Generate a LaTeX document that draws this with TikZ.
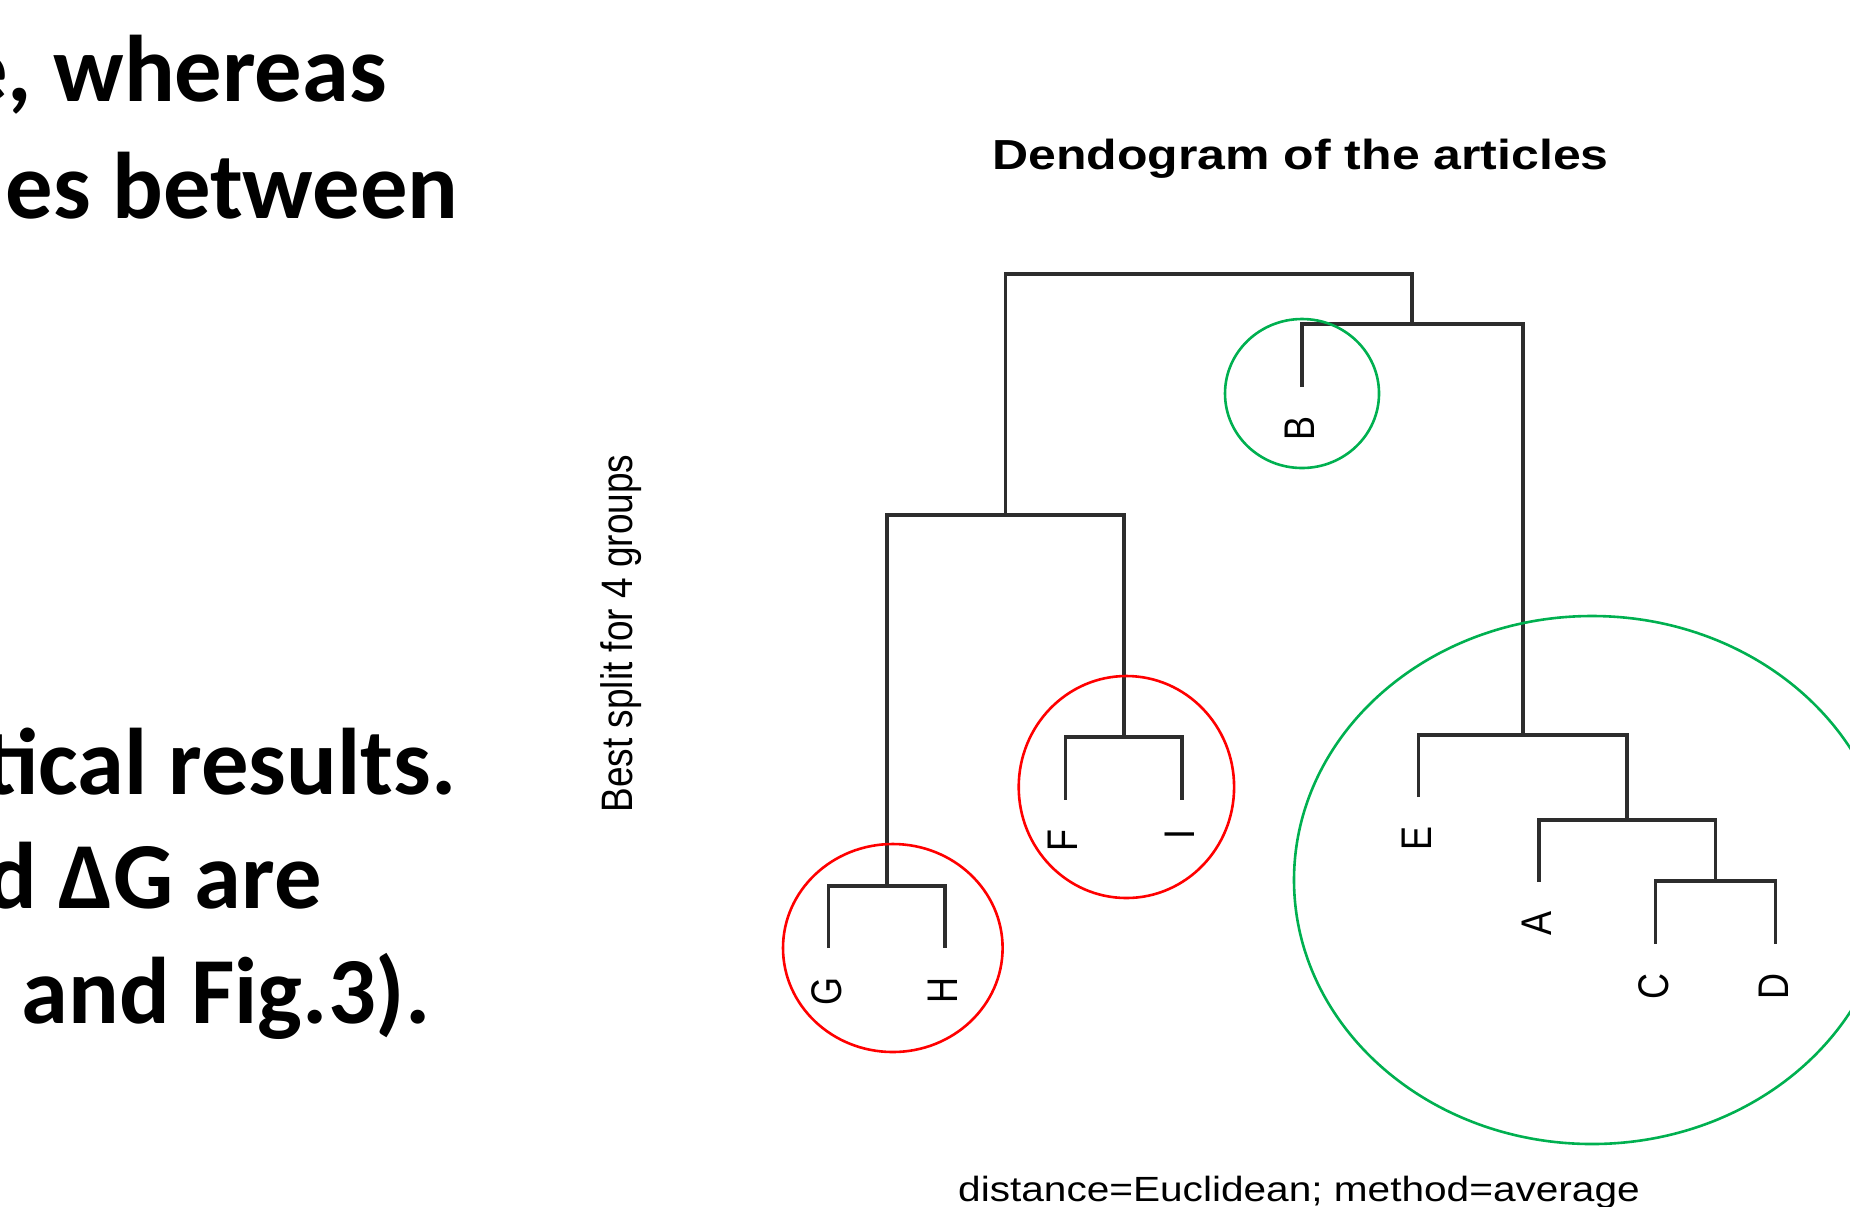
\documentclass[tikz,border=0pt]{standalone}
\usepackage{fontspec}
\setmainfont{Liberation Sans}
\newfontfamily\slidefont{Carlito}
\definecolor{ringgreen}{RGB}{0,176,80}
\definecolor{ringred}{RGB}{255,0,0}
\definecolor{branchgray}{RGB}{45,45,45}
\begin{document}
\begin{tikzpicture}[x=0.5pt,y=-0.5pt,
  slide/.style={font=\slidefont\bfseries\fontsize{47.3}{50}\selectfont, anchor=base east, inner sep=0pt},
  plottitle/.style={font=\bfseries\fontsize{21}{24}\selectfont, anchor=base, inner sep=0pt},
  axislabel/.style={font=\fontsize{18.5}{20}\selectfont, inner sep=0pt},
  leaflabel/.style={font=\fontsize{18}{20}\selectfont, rotate=90, anchor=base east, inner sep=0pt},
  branch/.style={draw=branchgray, line width=1.7pt},
  redring/.style={draw=ringred, line width=1.3pt},
  greenring/.style={draw=ringgreen, line width=1.3pt}]
\useasboundingbox (0,0) rectangle (1850,1206);
\clip (0,0) rectangle (1850,1206);

% slide text (cut at the left edge)
\node[slide] (t1) at (387.5,101.7) {e, whereas};
\node[slide] (t2) at (459,218) {es between};
\node[slide] (t3) at (457,794) {tical results.};
\node[slide] (t4) at (322,908.3) {d ΔG are};
\node[slide] (t5) at (431,1023) {and Fig.3).};

% plot texts
\node[plottitle] (title) at (1300.5,169) {\scalebox{1.19}[1]{Dendogram of the articles}};
\node[axislabel, rotate=90, anchor=base] (ylab) at (632,633.5) {\scalebox{1}[1.19]{Best split for 4 groups}};
\node[axislabel, anchor=base, font=\fontsize{17.5}{20}\selectfont] (xlab) at (1299,1201) {\scalebox{1.16}[1]{distance=Euclidean; method=average}};

% leaves (ends of branches)
\coordinate (G) at (828.6,948);
\coordinate (H) at (945,948);
\coordinate (F) at (1065.7,799.6);
\coordinate (I) at (1182,799.6);
\coordinate (B) at (1302,387);
\coordinate (E) at (1418.5,797);
\coordinate (A) at (1539,882);
\coordinate (C) at (1655.6,943.6);
\coordinate (D) at (1775.6,943.6);

% merges
\coordinate (GH) at (887,886);
\coordinate (FI) at (1124,737);
\coordinate (CD) at (1715.6,881);
\coordinate (ACD) at (1627,820);
\coordinate (EACD) at (1523,735);
\coordinate (BEACD) at (1412,324);
\coordinate (GHFI) at (1005.5,515);
\coordinate (root) at (1208.75,274);

\draw[branch] (G) |- (GH) -| (H);
\draw[branch] (F) |- (FI) -| (I);
\draw[branch] (C) |- (CD) -| (D);
\draw[branch] (A) |- (ACD) -| (CD);
\draw[branch] (E) |- (EACD) -| (ACD);
\draw[branch] (B) |- (BEACD) -| (EACD);
\draw[branch] (GH) |- (GHFI) -| (FI);
\draw[branch] (GHFI) |- (root) -| (BEACD);

% leaf labels
\node[leaflabel] (lG) at (841,977) {\scalebox{1}[1.19]{G}};
\node[leaflabel] (lH) at (957.5,977) {\scalebox{1}[1.19]{H}};
\node[leaflabel] (lF) at (1077.7,828.6) {\scalebox{1}[1.19]{F}};
\node[leaflabel] (lI) at (1194,828.6) {\scalebox{1}[1.19]{I}};
\node[leaflabel] (lB) at (1314,416) {\scalebox{1}[1.19]{B}};
\node[leaflabel] (lE) at (1431,826) {\scalebox{1}[1.19]{E}};
\node[leaflabel] (lA) at (1551.5,911) {\scalebox{1}[1.19]{A}};
\node[leaflabel] (lC) at (1668,972.6) {\scalebox{1}[1.19]{C}};
\node[leaflabel] (lD) at (1788,972.6) {\scalebox{1}[1.19]{D}};

% cluster rings
\draw[redring] (892.8,948) ellipse [x radius=54.9pt, y radius=52pt];
\draw[redring] (1126.4,787) ellipse [x radius=53.85pt, y radius=55.5pt];
\draw[greenring] (1302,393.5) ellipse [x radius=38.5pt, y radius=37.25pt];
\draw[greenring] (1592,880) ellipse [x radius=149pt, y radius=132pt];
\end{tikzpicture}
\end{document}
